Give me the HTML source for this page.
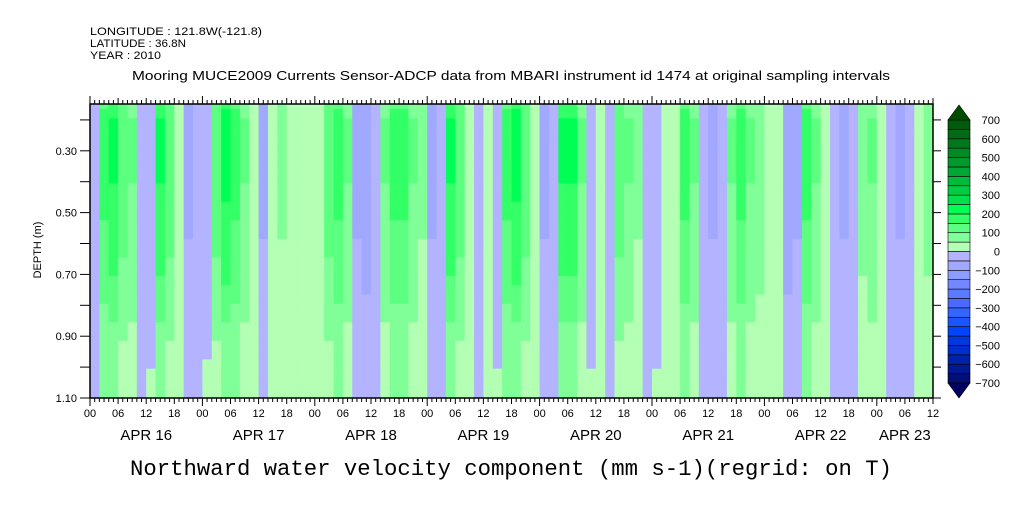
<!DOCTYPE html>
<html><head><meta charset="utf-8"><style>
body{margin:0;background:#fff;width:1009px;height:504px;overflow:hidden}
svg text{font-family:"Liberation Sans",sans-serif}
</style></head><body>
<svg id="c" width="1009" height="504" xmlns="http://www.w3.org/2000/svg">
<text x="90" y="35" font-size="11" textLength="172" lengthAdjust="spacingAndGlyphs">LONGITUDE : 121.8W(-121.8)</text>
<text x="90" y="47" font-size="11" textLength="96" lengthAdjust="spacingAndGlyphs">LATITUDE : 36.8N</text>
<text x="90" y="59" font-size="11" textLength="71" lengthAdjust="spacingAndGlyphs">YEAR : 2010</text>
<text x="511" y="80" font-size="12.5" text-anchor="middle" textLength="758" lengthAdjust="spacingAndGlyphs">Mooring MUCE2009 Currents Sensor-ADCP data from MBARI instrument id 1474 at original sampling intervals</text>
<text x="511" y="475" font-size="22" text-anchor="middle" textLength="762" lengthAdjust="spacingAndGlyphs" style="font-family:'Liberation Mono',monospace">Northward water velocity component (mm s-1)(regrid: on T)</text>
<text transform="translate(41,250) rotate(-90)" font-size="11" text-anchor="middle">DEPTH (m)</text>
<g id="cells"></g><g id="axes"></g><g id="cbar"></g>
</svg>
<script>
// surface velocity per 2-hour bin starting APR 16 00:00 (mm/s)
const surfaceValues=[-40,170,200,130,100,-40,-30,200,130,40,-60,-40,-20,130,220,170,100,30,-60,20,60,30,30,20,40,130,170,100,-60,-80,-40,100,170,170,100,60,-60,-40,200,130,30,-40,20,-30,170,220,130,30,-60,-40,200,200,100,-30,30,-40,130,100,60,-40,-30,30,40,170,100,-40,-60,-40,100,170,100,80,40,30,-80,-60,170,100,40,-40,-60,-40,70,100,40,-40,-60,-40,30,70];
// depth rows (m) and profile scale/offset
const depthRows=[0.15,0.18,0.21,0.24,0.27,0.30,0.33,0.36,0.39,0.42,0.45,0.48,0.51,0.54,0.57,0.60,0.63,0.66,0.69,0.72,0.75,0.78,0.81,0.84,0.87,0.90,0.93,0.96,0.99,1.02,1.05,1.08];
const depthScale=[0.85,0.95,1,1,1,1,1,1,1,0.95,0.95,0.9,0.9,0.85,0.85,0.8,0.8,0.75,0.75,0.7,0.65,0.6,0.55,0.5,0.45,0.4,0.35,0.3,0.3,0.3,0.3,0.3];
const depthOffset=[0,0,0,0,0,0,0,0,0,0,0,0,0,0,0,0,0,0,0,0,0,0,0,0,0,0,0,5,8,10,10,10];
const levels=[-700,-650,-600,-550,-500,-450,-400,-350,-300,-250,-200,-150,-100,-50,0,50,100,150,200,250,300,350,400,450,500,550,600,650,700];
const colors=["#000e77","#001890","#0022aa","#002ecc","#0038e0","#0044ff","#1a55ff","#3366ff","#4a6aff","#5c7aff","#7388ff","#8c9cff","#a0a8ff","#b3b3ff","#b3ffb3","#80ff99","#5cff80","#33ff66","#00ff55","#00e04d","#00cc44","#00bb3b","#00a833","#00992c","#008a24","#00781c","#006b14","#005c0c"];
const tickDepths=[0.30,0.50,0.70,0.90,1.10];
const dayLabels=["APR 16","APR 17","APR 18","APR 19","APR 20","APR 21","APR 22","APR 23"];
const NS="http://www.w3.org/2000/svg";
const X0=90,X1=933,Y0=104,Y1=398,HOURS=180,D0=0.1485,D1=1.10;
const xS=h=>X0+(X1-X0)*h/HOURS;
const yS=d=>Y0+(Y1-Y0)*(d-D0)/(D1-D0);
function mk(t,a,p){const e=document.createElementNS(NS,t);for(const k in a)e.setAttribute(k,a[k]);p.appendChild(e);return e;}
function col(v){v=Math.max(-699,Math.min(699,v));let i=Math.floor((v+700)/50);return colors[i];}
const cells=document.getElementById('cells');
surfaceValues.forEach((s,i)=>{
  depthRows.forEach((d,r)=>{
    const d0=r==0?D0:(depthRows[r-1]+d)/2, d1=r==depthRows.length-1?D1:(d+depthRows[r+1])/2;
    const v=s*depthScale[r]+depthOffset[r];
    const el=mk('rect',{x:xS(i*2),y:yS(d0),width:xS(i*2+2)-xS(i*2)+0.5,height:yS(d1)-yS(d0)+0.5,fill:col(v)},cells);
    
    
  });
});
const ax=document.getElementById('axes');
const frame=mk('rect',{x:X0,y:Y0,width:X1-X0,height:Y1-Y0,fill:'none',stroke:'#000','stroke-width':1.5},ax);


for(let h=0;h<=HOURS;h++){const x=xS(h);const L=h%24==0?8:(h%6==0?6:4);
  mk('line',{x1:x,x2:x,y1:Y0,y2:Y0-L,stroke:'#000'},ax);
  mk('line',{x1:x,x2:x,y1:Y1,y2:Y1+L,stroke:'#000'},ax);
  if(h%6==0){const t=mk('text',{x:x,y:Y1+19,'font-size':11,'text-anchor':'middle'},ax);t.textContent=String(h%24).padStart(2,'0');
    
    }
}
dayLabels.forEach((l,i)=>{const c=Math.min(i*24+12,(i*24+HOURS)/2);const t=mk('text',{x:xS(c),y:Y1+42,'font-size':15,'text-anchor':'middle'},ax);t.textContent=l;
  
  });
for(let k=0;k<10;k++){const d=0.2+k*0.1;if(d>1.101)break;const y=yS(d);
  mk('line',{x1:X0-10,x2:X0,y1:y,y2:y,stroke:'#000'},ax);
  mk('line',{x1:X1,x2:X1+8,y1:y,y2:y,stroke:'#000'},ax);}
tickDepths.forEach(d=>{const t=mk('text',{x:X0-13,y:yS(d)+4,'font-size':11,'text-anchor':'end'},ax);t.textContent=d.toFixed(2);
  
  });
const cb=document.getElementById('cbar');
const CX=948,CW=22,CT=120,CB=383,step=(CB-CT)/colors.length;
colors.forEach((c,i)=>{const y=CB-(i+1)*step;const r=mk('rect',{x:CX,y:y,width:CW,height:step,fill:c,stroke:'#000','stroke-width':0.6},cb);
  
  });
const tu=mk('polygon',{points:`${CX},${CT} ${CX+CW},${CT} ${CX+CW/2},${CT-15}`,fill:'#004d00',stroke:'#000','stroke-width':0.6},cb);


const td=mk('polygon',{points:`${CX},${CB} ${CX+CW},${CB} ${CX+CW/2},${CB+15}`,fill:'#000060',stroke:'#000','stroke-width':0.6},cb);


levels.forEach((v,i)=>{if(v%100!=0)return;const y=CB-i*step;
  const t=mk('text',{x:CX+CW+30,y:y+4,'font-size':11,'text-anchor':'end'},cb);t.textContent=v<0?'\u2212'+(-v):String(v);
  
  });
</script>
</body></html>
